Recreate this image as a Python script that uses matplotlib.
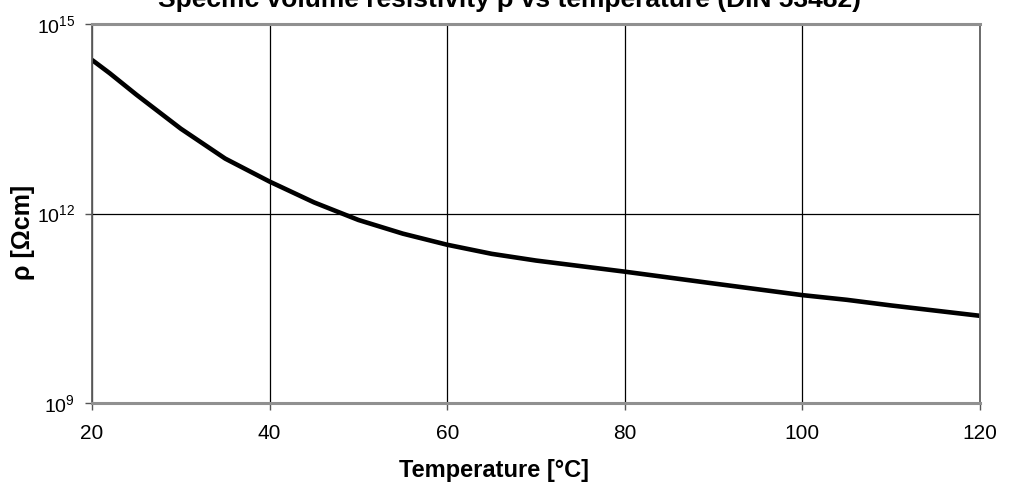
import matplotlib
matplotlib.use('Agg')
import matplotlib.pyplot as plt
from matplotlib.ticker import LogFormatterMathtext, NullLocator, FixedLocator

# Data
temperature = [20, 22, 25, 30, 35, 40, 45, 50, 55, 60, 65, 70, 80, 90, 100, 105, 110, 120]
resistivity = [2.7e14, 1.66e14, 7.6e13, 2.2e13, 7.4e12, 3.2e12, 1.5e12, 7.9e11, 4.8e11,
               3.2e11, 2.3e11, 1.8e11, 1.2e11, 7.8e10, 5.1e10, 4.3e10, 3.5e10, 2.4e10]
x_ticks = [20, 40, 60, 80, 100, 120]
y_ticks = [1e9, 1e12, 1e15]

plt.rcParams['font.family'] = ['Liberation Sans', 'DejaVu Sans']
plt.rcParams['mathtext.fontset'] = 'custom'
plt.rcParams['mathtext.rm'] = 'Liberation Sans'
plt.rcParams['mathtext.it'] = 'Liberation Sans'

fig = plt.figure(figsize=(10.10, 4.86), dpi=100)
ax = fig.add_axes([92 / 1010, 1 - 403 / 486, 888 / 1010, 379 / 486])

ax.plot(temperature, resistivity, color='black', linewidth=3.3, solid_capstyle='butt')

ax.set_yscale('log')
ax.set_xlim(20, 120)
ax.set_ylim(1e9, 1e15)
ax.xaxis.set_major_locator(FixedLocator(x_ticks))
ax.yaxis.set_major_locator(FixedLocator(y_ticks))
ax.yaxis.set_minor_locator(NullLocator())
ax.yaxis.set_major_formatter(LogFormatterMathtext())

ax.grid(True, color='black', linewidth=0.9)
ax.tick_params(axis='both', direction='out', length=5, width=1, color='#555555')
ax.tick_params(axis='x', labelsize=15, pad=10)
ax.tick_params(axis='y', labelsize=14, pad=7)

for side in ['top', 'bottom']:
    ax.spines[side].set_color('#909090')
    ax.spines[side].set_linewidth(2.2)
for side in ['left', 'right']:
    ax.spines[side].set_color('#606060')
    ax.spines[side].set_linewidth(1.3)

# Axis titles and chart title placed to match the reference layout
fig.text(494 / 1010, 1 - 477 / 486, 'Temperature [°C]', fontsize=17,
         fontweight='bold', ha='center', va='baseline')
fig.text(23 / 1010, 1 - 232 / 486, 'ρ [Ωcm]', rotation=90, fontsize=18,
         fontweight='bold', ha='center', va='center')
fig.text(510 / 1010, 1 - 7.5 / 486, 'Specific volume resistivity ρ vs temperature (DIN 53482)',
         fontsize=19, fontweight='bold', ha='center', va='baseline')

fig.savefig('out.png', dpi=100)
